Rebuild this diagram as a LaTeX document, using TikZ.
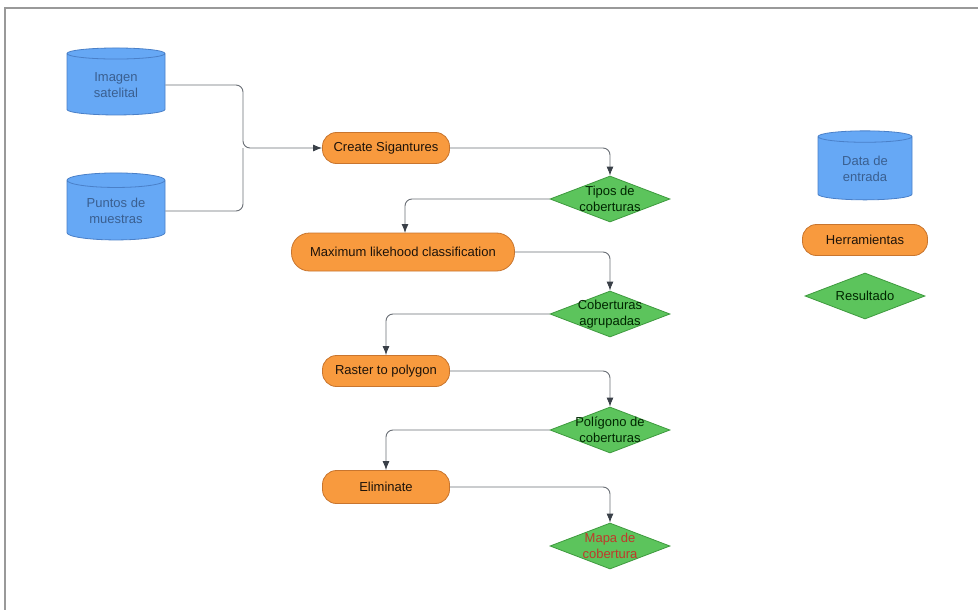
\documentclass[tikz,border=0pt]{standalone}
\usepackage{fontspec}
\setmainfont{Liberation Sans}
\usetikzlibrary{shapes.geometric,arrows.meta}
\definecolor{dbfill}{HTML}{66A8F5}
\definecolor{dbdraw}{HTML}{4A80C8}
\definecolor{dbtext}{HTML}{3A5F90}
\definecolor{orfill}{HTML}{F89A3E}
\definecolor{ordraw}{HTML}{C8752E}
\definecolor{grfill}{HTML}{5CC45C}
\definecolor{grdraw}{HTML}{3E9A3E}
\definecolor{linec}{HTML}{6A6F76}
\definecolor{tipc}{HTML}{3A4048}
\definecolor{redtext}{HTML}{C0392B}
\tikzset{
  txt/.style={font=\fontsize{13}{15.5}\selectfont, align=center},
  db/.style={cylinder, shape border rotate=90, aspect=0.24, draw=dbdraw, fill=dbfill,
    text=dbtext, minimum width=98pt, minimum height=67pt, txt, inner sep=1pt, line width=0.8pt},
  tool/.style={rounded corners=14pt, draw=ordraw, fill=orfill, text=black!85!brown,
    minimum height=31pt, txt, line width=0.8pt},
  res/.style={diamond, draw=grdraw, fill=grfill, minimum width=120pt, minimum height=46pt,
    inner sep=0pt, line width=0.8pt},
  restxt/.style={txt, text=black!85!green, inner sep=0pt},
  conn/.style={draw=linec, line width=0.9pt, rounded corners=7pt},
  arr/.style={conn, -{Latex[length=9pt,width=7pt,color=tipc]}}
}
\begin{document}
\begin{tikzpicture}[x=1pt,y=-1pt]
\clip (0,0) rectangle (978,610);
\fill[white] (0,0) rectangle (978,610);
\draw[gray!80, line width=1.6pt] (5,8) rectangle (1000,640);

\node[db] (img) at (116,85) {Imagen\\satelital};
\node[db] (pun) at (116,211) {Puntos de\\muestras};
\node[tool, minimum width=127pt] (cs) at (386,148) {Create Sigantures};
\node[res, label={[restxt]center:Tipos de\\coberturas}] (tip) at (610,199) {};
\node[tool, minimum width=223pt, minimum height=38pt, rounded corners=18pt] (mlc) at (403,252) {Maximum likehood classification};
\node[res, label={[restxt]center:Coberturas\\agrupadas}] (cag) at (610,314) {};
\node[tool, minimum width=127pt] (rtp) at (386,371) {Raster to polygon};
\node[res, label={[restxt]center:Polígono de\\coberturas}] (pol) at (610,430) {};
\node[tool, minimum width=127pt, minimum height=33pt] (eli) at (386,487) {Eliminate};
\node[res, label={[restxt, text=redtext]center:Mapa de\\cobertura}] (map) at (610,546) {};

\node[db, minimum width=94pt, minimum height=69pt] (leg1) at (865,169) {Data de\\entrada};
\node[tool, minimum width=125pt] (leg2) at (865,240) {Herramientas};
\node[res, label={[restxt]center:Resultado}] (leg3) at (865,296) {};

\coordinate (j) at (243,148);
\draw[arr] (img.east) -| (j) -- (cs.west);
\draw[conn] (pun.east) -| (j);
\draw[arr] (cs.east) -| (tip.north);
\draw[arr] (tip.west) -| (405,233);
\draw[arr] (mlc.east) -| (cag.north);
\draw[arr] (cag.west) -| (rtp.north);
\draw[arr] (rtp.east) -| (pol.north);
\draw[arr] (pol.west) -| (eli.north);
\draw[arr] (eli.east) -| (map.north);
\end{tikzpicture}
\end{document}
